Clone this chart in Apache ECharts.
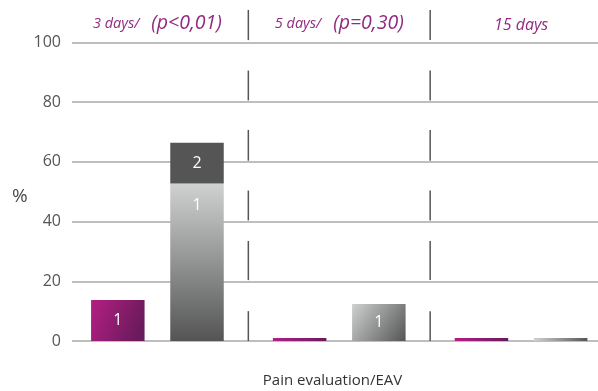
<!DOCTYPE html>
<html>
<head>
<meta charset="utf-8">
<script src="https://cdn.jsdelivr.net/npm/echarts@6/dist/echarts.min.js"></script>
<style>
  html, body { margin: 0; padding: 0; background: #ffffff; }
  #chart { width: 598px; height: 391px; }
</style>
</head>
<body>
<div id="chart"></div>
<script>
// Follow-up periods and the statistical note shown next to each
const periods = ['3 days', '5 days', '15 days'];
const periodNotes = ['(p<0,01)', '(p=0,30)', ''];

// Percentage of patients per group and period
const groupA = [13.7, 1, 1];
const groupBLower = [52.8, 12.4, 1];
const groupBUpper = [13.6, 0, 0];

// Patient counts printed inside the bars
const groupACounts = ['1', '', ''];
const groupBLowerCounts = ['1', '1', ''];
const groupBUpperCounts = ['2', '', ''];

// Value-axis ticks
const yMin = 0, yMax = 100, yStep = 20;

// Broken separators between periods: after which category, and the value spans drawn
const separatorAfter = [0, 1];
const separatorSpans = [[0, 10], [20.4, 33.5], [40.4, 50.4], [60.4, 70.7], [80.6, 90.6], [100.8, 110.9]];

const FONT = '"Open Sans", "Noto Sans", sans-serif';
const PURPLE = '#922a80';

function lin(x, y, x2, y2, c0, c1) {
  return new echarts.graphic.LinearGradient(x, y, x2, y2, [
    { offset: 0, color: c0 }, { offset: 1, color: c1 }
  ]);
}

const magentaFill = lin(0, 0, 1, 0.5, '#b31f82', '#6a1a5c');
const greyFills = [
  lin(0, 0, 0, 1, '#d0d2d2', '#545454'),
  lin(0, 0, 1, 1, '#cfd1d1', '#555555'),
  lin(0, 0, 1, 0, '#d0d2d2', '#555555')
];

const countLabel = (counts) => ({
  show: true,
  color: '#ffffff',
  fontFamily: FONT,
  fontSize: 16,
  formatter: (p) => counts[p.dataIndex]
});

const separatorData = [];
separatorAfter.forEach((c) => separatorSpans.forEach((s) => separatorData.push([c, s[0], s[1]])));

const chart = echarts.init(document.getElementById('chart'), null, { renderer: 'canvas' });

chart.setOption({
  animation: false,
  backgroundColor: '#ffffff',
  grid: [
    { left: 66.5, width: 545.5, top: 42.5, bottom: 50, outerBoundsMode: 'none', containLabel: false },
    { left: 72, right: 0, top: 42.5, bottom: 50, outerBoundsMode: 'none', containLabel: false }
  ],
  xAxis: [
    {
      type: 'category', gridIndex: 0, data: periods, position: 'bottom',
      axisLine: { show: false }, axisTick: { show: false }, axisLabel: { show: false }
    },
    {
      type: 'category', gridIndex: 0, data: periods, position: 'top',
      axisLine: { show: false }, axisTick: { show: false },
      axisLabel: {
        margin: 9,
        formatter: (v, i) => periodNotes[i] ? `{s|${v}/}{b|${periodNotes[i]}}` : `{m|${v}}`,
        rich: {
          s: { fontFamily: FONT, fontStyle: 'italic', fontSize: 14.5, color: PURPLE },
          b: { fontFamily: FONT, fontStyle: 'italic', fontSize: 19.5, color: PURPLE, padding: [0, 0, 0, 12] },
          m: { fontFamily: FONT, fontStyle: 'italic', fontSize: 16, color: PURPLE }
        }
      }
    },
    { type: 'value', gridIndex: 1, min: 0, max: 1, show: false }
  ],
  yAxis: [
    { type: 'value', gridIndex: 0, min: yMin, max: yMax, interval: yStep, show: false },
    {
      type: 'value', gridIndex: 1, min: yMin, max: yMax, interval: yStep,
      name: '%', nameLocation: 'middle', nameRotate: 0, nameGap: 34,
      nameTextStyle: { fontFamily: FONT, fontSize: 19, color: '#4a4a4a', verticalAlign: 'top', lineHeight: 10 },
      axisLine: { show: false }, axisTick: { show: false },
      axisLabel: { margin: 11, fontFamily: FONT, fontSize: 16, color: '#555555' },
      splitLine: { lineStyle: { color: '#a8a8a8', width: 1.5 } }
    }
  ],
  series: [
    {
      type: 'bar', xAxisIndex: 0, yAxisIndex: 0, barWidth: 53.5, barGap: '48%',
      data: groupA.map((v) => ({ value: v, itemStyle: { color: magentaFill } })),
      label: Object.assign(countLabel(groupACounts), { position: 'inside' })
    },
    {
      type: 'bar', xAxisIndex: 0, yAxisIndex: 0, barWidth: 53.5, stack: 'b',
      data: groupBLower.map((v, i) => ({
        value: v,
        itemStyle: { color: greyFills[i] },
        label: i === 0 ? { position: 'insideTop', distance: 14 } : { position: 'inside' }
      })),
      label: countLabel(groupBLowerCounts)
    },
    {
      type: 'bar', xAxisIndex: 0, yAxisIndex: 0, barWidth: 53.5, stack: 'b',
      data: groupBUpper,
      itemStyle: { color: '#555555' },
      label: Object.assign(countLabel(groupBUpperCounts), { position: 'inside' })
    },
    {
      type: 'custom', xAxisIndex: 0, yAxisIndex: 0, clip: false, silent: true,
      data: separatorData,
      renderItem: (params, api) => {
        const half = api.size([1, 0])[0] / 2;
        const x = api.coord([api.value(0), 0])[0] + half;
        const y1 = api.coord([api.value(0), api.value(1)])[1];
        const y2 = api.coord([api.value(0), api.value(2)])[1];
        return {
          type: 'line',
          shape: { x1: x, y1: y1, x2: x, y2: y2 },
          style: { stroke: '#555555', lineWidth: 1.5 }
        };
      }
    }
  ],
  graphic: [
    {
      type: 'text', x: 332.5, y: 381,
      style: {
        text: 'Pain evaluation/EAV', fontFamily: FONT, fontSize: 15, fill: '#333333',
        align: 'center', verticalAlign: 'middle'
      }
    }
  ]
});
</script>
</body>
</html>
